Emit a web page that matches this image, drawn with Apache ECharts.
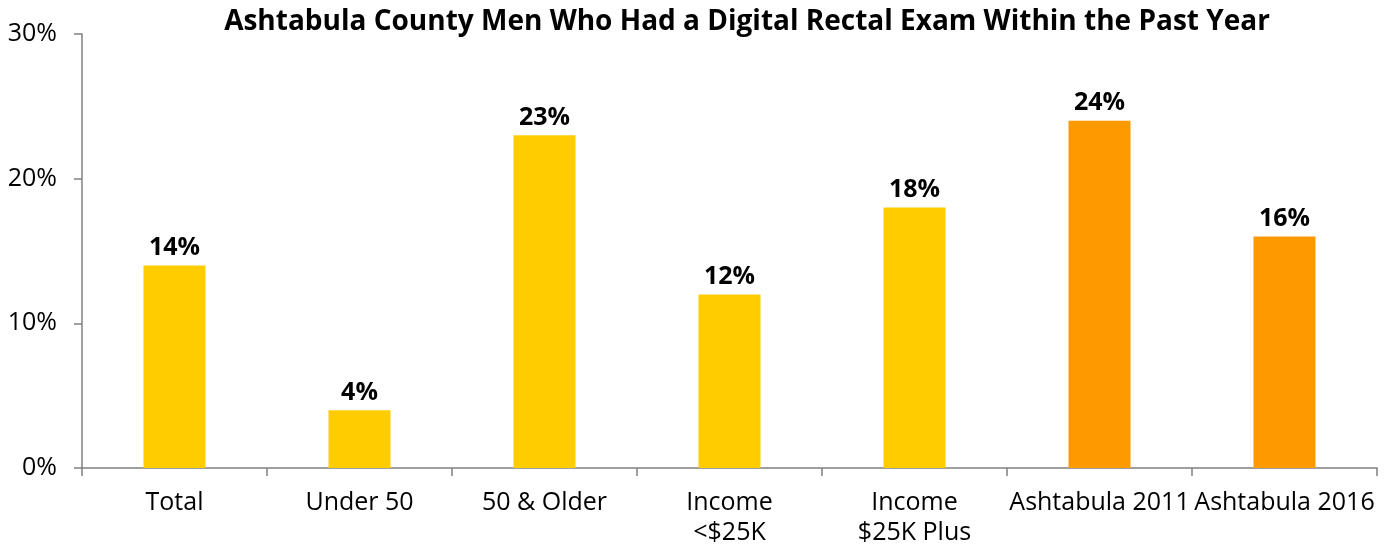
<!DOCTYPE html>
<html>
<head>
<meta charset="utf-8">
<script src="https://cdn.jsdelivr.net/npm/echarts@6/dist/echarts.min.js"></script>
<style>
  html, body { margin: 0; padding: 0; background: #fff; }
  #chart { width: 1394px; height: 549px; }
</style>
</head>
<body>
<div id="chart"></div>
<script>
// categories and values
var categories = ['Total', 'Under 50', '50 & Older', 'Income\n<$25K', 'Income\n$25K Plus', 'Ashtabula 2011', 'Ashtabula 2016'];
var values = [14, 4, 23, 12, 18, 24, 16];
var barColors = ['#FFCC00', '#FFCC00', '#FFCC00', '#FFCC00', '#FFCC00', '#FF9900', '#FF9900'];
var yTicks = [0, 10, 20, 30];

var font = '"Open Sans", "Noto Sans", sans-serif';

var chart = echarts.init(document.getElementById('chart'));
chart.setOption({
    animation: false,
    title: {
        text: 'Ashtabula County Men Who Had a Digital Rectal Exam Within the Past Year',
        left: 742,
        top: 3,
        textAlign: 'center',
        textStyle: { fontFamily: font, fontSize: 28, fontWeight: 'bold', color: '#000' }
    },
    grid: { left: 82, right: 17, top: 34, bottom: 81, containLabel: false },
    xAxis: {
        type: 'category',
        data: categories,
        axisLine: { lineStyle: { color: '#808080', width: 1.5 } },
        axisTick: { show: true, length: 8, lineStyle: { color: '#808080', width: 1.5 } },
        axisLabel: {
            interval: 0,
            margin: 20,
            fontFamily: font,
            fontSize: 25,
            color: '#000',
            lineHeight: 30
        }
    },
    yAxis: {
        type: 'value',
        min: yTicks[0],
        max: yTicks[yTicks.length - 1],
        interval: 10,
        splitLine: { show: false },
        axisLine: { show: true, lineStyle: { color: '#808080', width: 1.5 } },
        axisTick: { show: true, length: 8, lineStyle: { color: '#808080', width: 1.5 } },
        axisLabel: {
            margin: 25,
            fontFamily: font,
            fontSize: 25,
            color: '#000',
            formatter: '{value}%'
        }
    },
    series: [{
        type: 'bar',
        barWidth: 62,
        data: values.map(function (v, i) {
            return { value: v, itemStyle: { color: barColors[i] } };
        }),
        label: {
            show: true,
            position: 'top',
            distance: 5,
            formatter: '{c}%',
            fontFamily: font,
            fontSize: 25,
            fontWeight: 'bold',
            color: '#000'
        }
    }]
});
</script>
</body>
</html>
